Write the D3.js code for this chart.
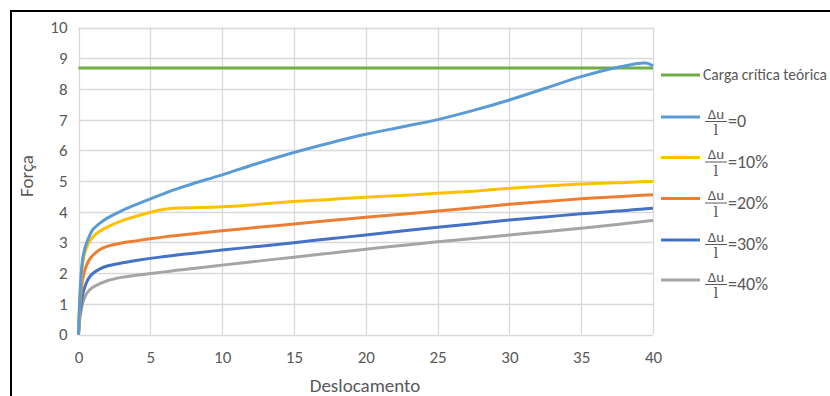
<!DOCTYPE html>
<html><head><meta charset="utf-8">
<script src="https://cdn.jsdelivr.net/npm/d3@7"></script>
<style>
html,body{margin:0;padding:0;background:#fff;}
svg text{font-family:Carlito, Calibri, Lato, "Open Sans", sans-serif;}
</style></head>
<body><svg id="c" width="830" height="396"></svg>
<script>
const xValues = [0, 0.1, 0.2, 0.3, 0.5, 0.75, 1, 1.5, 2, 3, 4, 5, 6, 7, 8, 10, 12.5, 15, 17.5, 20, 22.5, 25, 27.5, 30, 32.5, 35, 37.5, 39.5, 40];
const s0  = [0, 1.3, 2.05, 2.5, 2.9, 3.2, 3.42, 3.63, 3.79, 4.03, 4.23, 4.42, 4.6, 4.77, 4.92, 5.2, 5.58, 5.93, 6.24, 6.52, 6.76, 7.0, 7.3, 7.64, 8.02, 8.4, 8.7, 8.84, 8.75];
const s10 = [0, 1.2, 1.9, 2.35, 2.75, 3.02, 3.18, 3.37, 3.5, 3.7, 3.85, 3.98, 4.08, 4.12, 4.13, 4.16, 4.24, 4.33, 4.4, 4.47, 4.53, 4.6, 4.67, 4.76, 4.84, 4.9, 4.94, 4.98, 4.98];
const s20 = [0, 1.0, 1.5, 1.82, 2.18, 2.43, 2.58, 2.77, 2.87, 2.98, 3.05, 3.12, 3.18, 3.23, 3.28, 3.38, 3.49, 3.6, 3.71, 3.82, 3.92, 4.02, 4.13, 4.24, 4.33, 4.42, 4.49, 4.54, 4.55];
const s30 = [0, 0.7, 1.05, 1.32, 1.63, 1.86, 1.99, 2.14, 2.23, 2.33, 2.41, 2.48, 2.54, 2.6, 2.65, 2.75, 2.87, 2.99, 3.12, 3.24, 3.37, 3.49, 3.61, 3.73, 3.83, 3.93, 4.02, 4.1, 4.11];
const s40 = [0, 0.55, 0.82, 1.03, 1.28, 1.44, 1.54, 1.66, 1.75, 1.86, 1.93, 1.99, 2.04, 2.1, 2.15, 2.26, 2.39, 2.52, 2.65, 2.78, 2.9, 3.02, 3.13, 3.24, 3.35, 3.46, 3.58, 3.69, 3.71];
const criticalX = [0, 40];
const criticalLoad = [8.68, 8.68];
const xTicks = [0, 5, 10, 15, 20, 25, 30, 35, 40];
const yTicks = [0, 1, 2, 3, 4, 5, 6, 7, 8, 9, 10];
const legendSuffix = ["=0", "=10%", "=20%", "=30%", "=40%"];
const criticalLabel = "Carga crítica teórica";
const xTitle = "Deslocamento";
const yTitle = "Força";

const colors = {crit:"#70AD47", s0:"#5B9BD5", s10:"#FFC000", s20:"#ED7D31", s30:"#4472C4", s40:"#A5A5A5"};

const svg = d3.select("#c");
// frame
svg.append("line").attr("x1",11).attr("x2",11).attr("y1",10).attr("y2",396).attr("stroke","#000").attr("stroke-width",2);
svg.append("line").attr("x1",10).attr("x2",830).attr("y1",11).attr("y2",11).attr("stroke","#000").attr("stroke-width",2);

const x = d3.scaleLinear().domain([0,40]).range([78.5,653]);
const y = d3.scaleLinear().domain([0,10]).range([334.5,27.5]);

// grid
const g = svg.append("g");
g.selectAll("line.h").data(yTicks).join("line")
  .attr("x1",x(0)).attr("x2",x(40)).attr("y1",d=>Math.round(y(d))+0.5).attr("y2",d=>Math.round(y(d))+0.5)
  .attr("stroke","#D9D9D9").attr("stroke-width",1.3);
g.selectAll("line.v").data(xTicks).join("line")
  .attr("y1",y(0)).attr("y2",y(10)).attr("x1",d=>Math.round(x(d))+0.5).attr("x2",d=>Math.round(x(d))+0.5)
  .attr("stroke","#D9D9D9").attr("stroke-width",1.3);

// axes
const xAxis = d3.axisBottom(x).tickValues(xTicks).tickSize(0).tickPadding(16);
const yAxis = d3.axisLeft(y).tickValues(yTicks).tickSize(0).tickPadding(11);
const gx = svg.append("g").attr("transform",`translate(0,${y(0)})`).call(xAxis);
const gy = svg.append("g").attr("transform",`translate(${x(0)},0)`).call(yAxis);
[gx,gy].forEach(a=>{a.select(".domain").remove(); a.selectAll("text").attr("fill","#595959").style("font-size","17px");});

svg.append("text").attr("x",365).attr("y",392).attr("text-anchor","middle").attr("fill","#595959").style("font-size","19px").text(xTitle);
svg.append("text").attr("transform","translate(33,176) rotate(-90)").attr("text-anchor","middle").attr("fill","#595959").style("font-size","19px").text(yTitle);

const line = d3.line().x(d=>x(d[0])).y(d=>y(d[1])).curve(d3.curveCatmullRom.alpha(0.5));
const series = [
  {k:"crit", xs:criticalX, ys:criticalLoad},
  {k:"s40", xs:xValues, ys:s40},
  {k:"s30", xs:xValues, ys:s30},
  {k:"s20", xs:xValues, ys:s20},
  {k:"s10", xs:xValues, ys:s10},
  {k:"s0", xs:xValues, ys:s0}
];
svg.append("g").selectAll("path").data(series).join("path")
  .attr("d",d=>line(d.xs.map((v,i)=>[v,d.ys[i]])))
  .attr("fill","none").attr("stroke",d=>colors[d.k]).attr("stroke-width",3).attr("stroke-linejoin","round");

// legend
const lg = svg.append("g");
lg.append("line").attr("x1",661).attr("x2",700).attr("y1",75).attr("y2",75).attr("stroke",colors.crit).attr("stroke-width",3);
lg.append("text").attr("x",703).attr("y",80).attr("fill","#595959").style("font-size","15.5px").text(criticalLabel);
const keys = ["s0","s10","s20","s30","s40"];
const ly = [117, 157.5, 198.5, 240, 280];
keys.forEach((k,i)=>{
  const yy = ly[i];
  lg.append("line").attr("x1",661).attr("x2",700).attr("y1",yy).attr("y2",yy).attr("stroke",colors[k]).attr("stroke-width",3);
  lg.append("text").attr("x",716).attr("y",yy+1.5).attr("text-anchor","middle").attr("fill","#595959").style("font-size","15px").text("Δu");
  lg.append("line").attr("x1",705).attr("x2",727).attr("y1",yy+4.5).attr("y2",yy+4.5).attr("stroke","#595959").attr("stroke-width",1);
  lg.append("text").attr("x",716).attr("y",yy+18).attr("text-anchor","middle").attr("fill","#595959").style("font-size","15px").style("font-family","'DejaVu Serif', serif").text("l");
  lg.append("text").attr("x",728).attr("y",yy+10).attr("fill","#595959").style("font-size","18px").text(legendSuffix[i]);
});
</script></body></html>
